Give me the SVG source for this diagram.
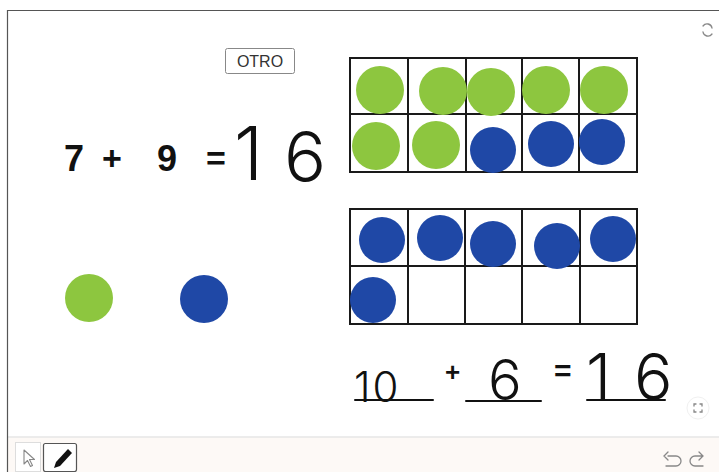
<svg xmlns="http://www.w3.org/2000/svg" width="719" height="472" viewBox="0 0 719 472">
<style>
.g{fill:#8dc63f}
.b{fill:#1f48a6}
.cell{fill:none;stroke:#1a1a1a;stroke-width:2}
.eq{font-family:"Liberation Sans",Arial,sans-serif;font-weight:bold;fill:#111}
.hw{font-family:Inter,"DejaVu Sans",sans-serif;font-weight:300;fill:#111}
.ul{stroke:#111;stroke-width:2;stroke-linecap:round}
.ic{fill:none;stroke:#888;stroke-width:1.3;stroke-linecap:round}
</style>
<rect x="0" y="0" width="719" height="472" fill="#fff"/>
<rect x="7" y="437" width="712" height="35" fill="#fdf9f6"/>
<line x1="7" y1="437" x2="719" y2="437" stroke="#e6e6e6" stroke-width="1.5"/>
<path d="M7.5 472 V10.5 H719" fill="none" stroke="#555" stroke-width="1.2"/>

<g id="reset-icon"><path class="ic" d="M703 26 a5 5 0 0 1 9 2 M712 34 a5 5 0 0 1 -9 -2"/></g>

<g id="otro-button">
<rect x="225.5" y="48.5" width="69" height="25" rx="2" fill="#fff" stroke="#888" stroke-width="1"/>
<text x="260" y="67" text-anchor="middle" font-family="'Liberation Sans',Arial,sans-serif" font-size="16" fill="#333">OTRO</text>
</g>

<g id="equation-top">
<text class="eq" x="64" y="171" font-size="36">7</text>
<text class="eq" x="102" y="170" font-size="34">+</text>
<text class="eq" x="157" y="171" font-size="36">9</text>
<text class="eq" x="206" y="170" font-size="34">=</text>
<text class="hw" x="234" y="180" font-size="74">1</text>
<text class="hw" x="284" y="182" font-size="70">6</text>
</g>

<g id="grid-top">
<rect class="cell" x="350" y="58" width="287" height="114"/>
<path class="cell" d="M408 58V172M466 58V172M522 58V172M579 58V172M350 114H637"/>
<circle class="g" cx="380" cy="90" r="24"/>
<circle class="g" cx="443" cy="91" r="24"/>
<circle class="g" cx="491" cy="92" r="24"/>
<circle class="g" cx="546" cy="90" r="24"/>
<circle class="g" cx="604" cy="90" r="24"/>
<circle class="g" cx="376" cy="146" r="24"/>
<circle class="g" cx="436" cy="145" r="24"/>
<circle class="b" cx="493" cy="150" r="23"/>
<circle class="b" cx="551" cy="144" r="23"/>
<circle class="b" cx="602" cy="142" r="23"/>
</g>

<g id="grid-bottom">
<rect class="cell" x="350" y="209" width="287" height="115"/>
<path class="cell" d="M408 209V324M465 209V324M522 209V324M580 209V324M350 266H637"/>
<circle class="b" cx="382" cy="240" r="23"/>
<circle class="b" cx="440" cy="238" r="23"/>
<circle class="b" cx="493" cy="244" r="23"/>
<circle class="b" cx="557" cy="246" r="23"/>
<circle class="b" cx="613" cy="239" r="23"/>
<circle class="b" cx="373" cy="300" r="23"/>
</g>

<g id="counter-green"><circle class="g" cx="89" cy="298" r="24"/></g>
<g id="counter-blue"><circle class="b" cx="204" cy="299" r="24"/></g>

<g id="equation-bottom">
<text class="hw" x="354" y="402" font-size="42" letter-spacing="2">10</text>
<line class="ul" x1="355" y1="400" x2="433" y2="400"/>
<text class="eq" x="445" y="381" font-size="26">+</text>
<text class="hw" x="488" y="400" font-size="56">6</text>
<line class="ul" x1="466" y1="401" x2="541" y2="401"/>
<text class="eq" x="554" y="381" font-size="30">=</text>
<text class="hw" x="586" y="400" font-size="64">1</text>
<text class="hw" x="634" y="400" font-size="64">6</text>
<line class="ul" x1="587" y1="400" x2="665" y2="400"/>
</g>

<g id="fullscreen-icon">
<circle cx="698" cy="408" r="11" fill="#fff" stroke="#f0f0f0"/>
<path class="ic" d="M694 406v-2h2M700 404h2v2M702 410v2h-2M696 412h-2v-2" stroke-width="1"/>
</g>

<g id="toolbar">
<rect x="15.5" y="442.5" width="25" height="29" fill="#fff" stroke="#ddd"/>
<path d="M24 450 l0 14 l3.5 -3.5 l3 6 l2 -1 l-3 -6 l5 0 z" fill="#fff" stroke="#888" stroke-width="1.1" stroke-linejoin="round"/>
<rect x="43.5" y="443.5" width="33" height="28" rx="2" fill="#fff" stroke="#555" stroke-width="1.2"/>
<path d="M54 468 l2 -6 l12 -13 l4 4 l-12 13 z" fill="#111"/>
<path class="ic" d="M668 456 h8 a5 5 0 0 1 0 10 h-10 M668 452 l-4 4 l4 4" stroke-width="1.6"/>
<path class="ic" d="M703 456 h-8 a5 5 0 0 0 0 10 h8 M699 452 l4 4 l-4 4" stroke-width="1.6"/>
</g>
</svg>
